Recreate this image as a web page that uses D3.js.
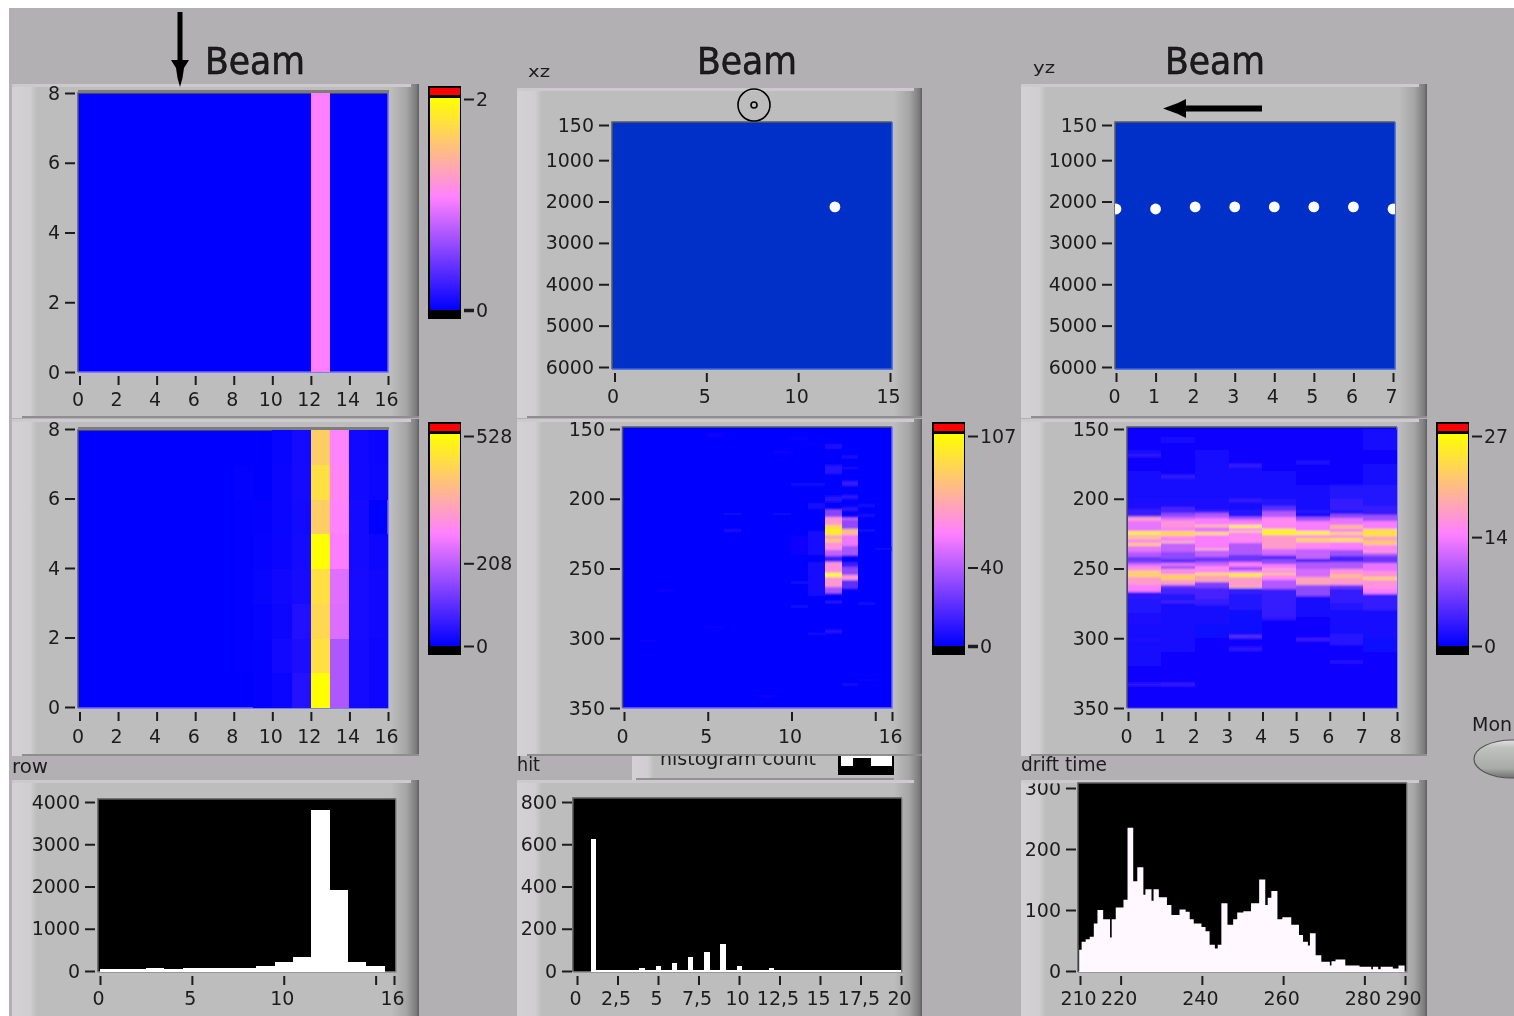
<!DOCTYPE html>
<html><head><meta charset="utf-8"><style>
html,body{margin:0;padding:0;background:#fff;overflow:hidden}
svg{display:block;filter:blur(0.45px)}
text{font-family:"DejaVu Sans",sans-serif;fill:#1c1c1c}
rect{shape-rendering:crispEdges}
</style>
<script src="https://cdn.jsdelivr.net/npm/d3@7"></script></head><body>
<script>
// ---------- data ----------
const beamTitle = "Beam";
const panelLabels = ["xz","yz","row","hit","drift time"];
const rowTicks = [0,2,4,6,8,10,12,14,16];
const colTicks = [0,2,4,6,8];
const wideZTicks = [150,1000,2000,3000,4000,5000,6000];
const zTicks = [150,200,250,300,350];
const xzTicks = [0,5,10,15];
const yzTicks = [0,1,2,3,4,5,6,7];
const hitRowTicks = [0,5,10,15,16];
const driftColTicks = [0,1,2,3,4,5,6,7,8];
const rowCountTicks = [0,1000,2000,3000,4000];
const hitCountTicks = [0,200,400,600,800];
const hitTicks = [0,2.5,5,7.5,10,12.5,15,17.5,20];
const driftCountTicks = [0,100,200,300];
const driftTicks = [210,220,240,260,280,290];

const heat1Max = 2, heat2Max = 528, heat3Max = 107, heat4Max = 27;
const heat1Cols = [[12,1.06]];               // column, value (all rows)
const heat2 = [ // bottom row first
 [0,0,0,0,0,0,0,0,0,4,10,38,528,190,22,14],
 [0,0,0,0,0,0,0,0,2,4,18,30,465,190,22,14],
 [0,0,0,0,0,0,0,0,2,6,14,36,450,240,24,16],
 [0,0,0,0,0,0,0,0,2,8,16,24,465,245,24,16],
 [0,0,0,0,0,0,0,0,2,6,12,22,528,275,22,14],
 [0,0,0,0,0,0,0,0,2,4,10,20,430,285,22,0],
 [0,0,0,0,0,0,0,0,4,0,10,22,465,290,18,14],
 [0,0,0,0,0,0,0,0,0,0,8,22,430,285,18,12]];
const heat3Bands = [ // column, z from, z to, value
 [12,161,164,6],[12,176,182,9],[12,198,202,9],[12,207,213,30],[12,213,219,66],[12,219,222,92],[12,222,226,100],
 [12,226,229,70],[12,229,231,88],[12,231,237,64],[12,237,241,43],[12,241,245,13],[12,245,253,64],[12,253,256,107],
 [12,256,263,66],[12,263,268,37],[12,273,275,12],[12,294,296,10],
 [13,169,171,9],[13,177,179,6],[13,187,191,12],[13,197,200,10],[13,206,209,10],[13,213,215,43],[13,215,222,32],
 [13,222,226,80],[13,226,234,53],[13,234,241,37],[13,245,249,13],[13,249,255,32],[13,255,258,66],[13,258,265,21],
 [5,153,156,2],[4,166,168,1],[9,166,168,2],[10,156,158,2],[10,189,191,3],[11,189,191,3],[11,203,207,5],[9,210,212,3],
 [6,210,212,3],[6,222,224,6],[11,223,240,5],[10,227,240,2],[14,204,206,4],[14,211,213,4],[14,222,224,3],[15,235,237,3],
 [11,245,270,4],[10,259,261,3],[2,265,267,2],[1,269,271,1],[14,274,276,3],[10,276,278,3],[5,291,293,2],[11,296,298,4],
 [1,301,303,2],[3,305,307,1],[8,341,343,2],[14,329,331,2],[13,332,334,3]];
const heat4Col0 = [[150,.5],[165,1.2],[168,2.5],[170,.6],[180,1],[190,1.3],[200,1.7],[207,3],[212,5],[213,17],[216,13],[223,25],[226,14],[227,22],[229,15],[232,22],[234,13],[238,10],[242,6],[245,9],[247,13],[249,16],[252,24],[253,18],[254,23],[256,17],[262,14],[267,2.5],[272,2],[282,1.6],[290,1.2],[300,1.6],[303,1],[320,.5],[332,2.5],[334,.5]];
const heat4Col1 = [[150,.5],[156,1.3],[160,.6],[183,3],[185,1],[200,1.7],[206,4],[210,8],[213,12],[215,16],[221,14],[223,23],[227,15],[231,24],[232,11],[238,8],[243,5],[246,13],[248,9],[250,17],[252,14],[254,22],[258,17],[262,6],[264,4],[268,2],[273,4],[275,1.3],[300,1],[310,.5],[332,3],[334,.5]];
const heat4Col2 = [[150,.5],[165,1.3],[175,1],[200,1.7],[208,3],[210,10],[214,14],[219,22],[220,13],[224,24],[226,14],[236,24],[237,11],[242,6],[245,11],[248,15],[253,25],[255,18],[260,7],[264,4],[272,3],[276,1.2],[290,.8],[300,.5]];
const heat4Col3 = [[150,.5],[175,3],[177,1],[200,3],[202,1.3],[208,2],[213,10],[215,14],[219,26],[221,15],[223,26],[224,15],[232,10],[240,6],[245,14],[249,8],[251,14],[253,25],[256,17],[263,21],[264,3],[268,2],[280,.8],[298,5],[300,.5],[306,2.5],[309,.5]];
const heat4Col4 = [[150,.5],[180,1.2],[200,2],[205,5],[209,10],[213,15],[222,26],[226,17],[236,12],[240,9],[241,4],[243,8],[247,14],[250,22],[251,15],[253,22],[255,15],[258,10],[265,3],[285,2.5],[287,.5]];
const heat4Col5 = [[150,.5],[173,2],[175,.5],[190,1.2],[208,2],[211,.6],[213,9],[216,14],[223,26],[226,15],[228,23],[231,15],[236,11],[243,2],[245,10],[250,12],[256,18],[262,8],[270,1.2],[285,.6],[300,3.5],[302,.5]];
const heat4Col6 = [[150,.5],[190,2],[200,3],[208,2],[211,8],[214,13],[219,20],[222,14],[224,23],[226,15],[228,24],[231,14],[237,9],[241,4],[245,10],[250,16],[254,20],[257,17],[262,6],[265,3],[275,2],[280,1],[297,2.2],[305,.5],[316,2.5],[318,.5]];
const heat4Col7 = [[150,1.2],[165,.6],[175,1.2],[190,2],[205,3],[212,9],[216,14],[222,24],[226,25],[227,18],[230,22],[233,15],[238,19],[239,10],[241,6],[246,13],[252,16],[256,23],[258,16],[265,14],[268,3],[280,1.2],[300,.8],[310,.5]];
const heat4Cols = [heat4Col0,heat4Col1,heat4Col2,heat4Col3,heat4Col4,heat4Col5,heat4Col6,heat4Col7];

const xzDotsX = [12], xzDotsZ = [2130];
const yzDotsX = [0,1,2,3,4,5,6,7];
const yzDotsZ = [2180,2180,2130,2130,2130,2130,2130,2180];

const rowEdges = [0,2.5,3.5,4.5,8.5,9.5,10.5,11.5,12.5,13.5,14.5,15.5];
const rowCounts = [40,70,45,70,118,210,330,3810,1917,210,118];
const hitValues = [1,4,5,6,7,8,9,10,12];
const hitCounts = [625,14,24,38,66,90,128,24,14];
const driftEdges = [209.8,210.4,211.4,212.4,213.4,214.3,215.7,217.4,217.8,218.8,220.7,221.7,223.1,224.1,225.6,226.1,227.6,228.1,229.4,231.4,232.5,234.5,236,237,238,239.9,240.9,241.9,243.2,243.9,244.8,246.3,247.7,248.7,250.2,252.1,254.1,255.6,256.2,257.1,258.6,259.8,262,263.9,264.9,266.1,266.6,268,269.4,271.5,271.9,272.9,275.3,278.8,281.7,282.1,283.4,284,287,288.4,289.9];
const driftCounts = [35,48,52,56,78,100,85,55,85,104,117,235,147,170,125,134,115,134,121,108,92,101,97,85,78,72,65,43,37,43,111,76,85,96,98,111,150,108,120,131,85,88,76,59,48,42,62,26,15,9,16,19,9,7,3,7,3,7,4,9,9];

// ---------- drawing ----------
const BG="#b3b0b3", PANEL="#bdbdbd";
const svg = d3.select("body").append("svg").attr("width",1514).attr("height",1016);
const defs = svg.append("defs");
function grad(id,stops,vertical){
  const g=defs.append("linearGradient").attr("id",id).attr("x1",0).attr("y1",vertical?1:0).attr("x2",vertical?0:1).attr("y2",0);
  stops.forEach(s=>g.append("stop").attr("offset",s[0]).attr("stop-color",s[1]));
}
grad("rightEdge",[[0,PANEL],[.55,"#a5a5a5"],[.9,"#7c7c7c"],[1,"#5f5f5f"]]);
grad("leftEdge",[[0,"#d3d1d3"],[.72,"#d0ced0"],[1,PANEL]]);
grad("ramp",[[0,"#0000ff"],[.53,"#ff80ff"],[1,"#ffff00"]],true);
grad("btn",[[0,"#6f716f"],[.25,"#a8aaa8"],[.8,"#c0c2c0"],[1,"#e0e0e0"]],true);
defs.append("filter").attr("id","vblur").attr("x",0).attr("y",0).attr("width",1).attr("height",1)
  .append("feGaussianBlur").attr("stdDeviation","0 0.8");

svg.append("rect").attr("x",9).attr("y",8).attr("width",1505).attr("height",1008).attr("fill",BG);

function panel(x,y,w,h){
  const g=svg.append("g");
  g.append("rect").attr("x",x).attr("y",y).attr("width",w).attr("height",h).attr("fill",PANEL);
  g.append("rect").attr("x",x).attr("y",y).attr("width",25).attr("height",h).attr("fill","url(#leftEdge)");
  g.append("rect").attr("x",x+w-28).attr("y",y).attr("width",28).attr("height",h).attr("fill","url(#rightEdge)");
  g.append("rect").attr("x",x).attr("y",y).attr("width",w-8).attr("height",3).attr("fill","#cccacc");
  g.append("rect").attr("x",x+10).attr("y",y+h-2).attr("width",w-10).attr("height",2).attr("fill","#8e8e8e");
}

// clipped "histogram count" strip, covered above by the panel
svg.append("rect").attr("x",632).attr("y",750).attr("width",290).attr("height",30).attr("fill",PANEL);
svg.append("rect").attr("x",632).attr("y",750).attr("width",22).attr("height",30).attr("fill","url(#leftEdge)");
svg.append("rect").attr("x",894).attr("y",750).attr("width",28).attr("height",30).attr("fill","url(#rightEdge)");
svg.append("rect").attr("x",636).attr("y",778).attr("width",258).attr("height",2).attr("fill","#929292");
svg.append("text").attr("x",660).attr("y",765).attr("font-size",19).text("histogram count");
svg.append("rect").attr("x",838).attr("y",750).attr("width",56).attr("height",25).attr("fill","#000");
svg.append("rect").attr("x",841).attr("y",750).attr("width",51).attr("height",16).attr("fill","#fff");
svg.append("rect").attr("x",853).attr("y",758).attr("width",18).attr("height",8).attr("fill","#000");

[[12,84,407,334],[517,88,405,330],[1021,84,406,334],
 [12,419,407,337],[517,419,405,337],[1021,419,406,337],
 [12,780,407,240],[517,780,405,240],[1021,780,406,240]].forEach(p=>panel(...p));

function styleAxis(g){
  g.select(".domain").remove();
  g.selectAll("line").attr("stroke","#1c1c1c").attr("stroke-width",2);
  g.selectAll("text").attr("font-size",19).attr("fill","#1c1c1c");
}
const plain = d3.format("d");
function yAxis(scale,ticks,axisX){
  const a=d3.axisLeft(scale).tickValues(ticks).tickSize(10).tickPadding(5).tickFormat(plain);
  const g=svg.append("g").attr("transform",`translate(${axisX},0)`).call(a); styleAxis(g); return g;
}
function xAxis(scale,ticks,axisY,fmt,pad){
  const a=d3.axisBottom(scale).tickValues(ticks).tickSize(9).tickPadding(pad||7).tickFormat(fmt||plain);
  const g=svg.append("g").attr("transform",`translate(0,${axisY})`).call(a); styleAxis(g);
  g.selectAll("text").attr("dx",-2); return g;
}
function frame(x0,y0,x1,y1,fill,edge){
  svg.append("rect").attr("x",x0).attr("y",y0).attr("width",x1-x0).attr("height",y1-y0).attr("fill",fill);
  const e=svg.append("g").attr("fill","none").attr("stroke-width",1.5);
  e.append("path").attr("d",`M${x0},${y1}V${y0}H${x1}`).attr("stroke","#5a5a5a");
  e.append("path").attr("d",`M${x0},${y1}H${x1}V${y0}`).attr("stroke",edge);
}
function ramp(max){return d3.scaleLinear().domain([0,.53*max,max]).range(["#0000ff","#ff80ff","#ffff00"]);}
function colorbar(x,top,max,ticks,yMax,boldZero){
  svg.append("rect").attr("x",x).attr("y",top).attr("width",33).attr("height",233).attr("fill","#000");
  svg.append("rect").attr("x",x+2).attr("y",top+2).attr("width",30).attr("height",7).attr("fill","#ff0000");
  svg.append("rect").attr("x",x+2).attr("y",top+12).attr("width",30).attr("height",212).attr("fill","url(#ramp)");
  const s=d3.scaleLinear().domain([0,max]).range([top+224,yMax]);
  const g=svg.append("g").attr("transform",`translate(${x+36},0)`).call(d3.axisRight(s).tickValues(ticks).tickSize(10).tickPadding(2).tickFormat(plain));
  styleAxis(g);
  if(boldZero) g.selectAll(".tick").filter(d=>d===0).select("line").attr("stroke-width",3.5);
}

// --- row 1 left
const x1=d3.scaleLinear().domain([0,16]).range([79.5,388]);
const y1=d3.scaleLinear().domain([0,8]).range([372,93]);
frame(78,93,388,372,"#0000ff","#6868ff");
svg.append("rect").attr("x",78).attr("y",90).attr("width",311).attr("height",3).attr("fill","#7d7d7d");
svg.selectAll(null).data(heat1Cols).enter().append("rect")
  .attr("x",d=>x1(d[0])).attr("width",d=>x1(d[0]+1)-x1(d[0])).attr("y",y1(8)).attr("height",y1(0)-y1(8))
  .attr("fill",d=>ramp(heat1Max)(d[1]));
yAxis(y1,colTicks,75); xAxis(x1,rowTicks,376,null,8);
colorbar(428,86,heat1Max,[0,2],99,true);

// --- row 2 left
const y2=d3.scaleLinear().domain([0,8]).range([708,430]);
frame(78,430,388,708,"#0000ff","#6868ff");
svg.append("rect").attr("x",78).attr("y",427).attr("width",311).attr("height",3).attr("fill","#7d7d7d");
heat2.forEach((row,r)=>row.forEach((v,c)=>{ if(v>0) svg.append("rect")
  .attr("x",x1(c)).attr("width",x1(c+1)-x1(c)).attr("y",y2(r+1)).attr("height",y2(r)-y2(r+1))
  .attr("fill",ramp(heat2Max)(v)); }));
yAxis(d3.scaleLinear().domain([0,8]).range([707,429]),colTicks,75);
xAxis(x1,rowTicks,712,null,9);
colorbar(428,422,heat2Max,[0,208,528],436);

// --- row 1 middle/right (xz, yz)
function dotsPlot(x0,x1p,scaleX,ticks,dx,dz,clipId,axisX){
  frame(x0,122,x1p,369,"#0030c8","#3a63e0");
  const zs=d3.scaleLinear().domain([150,6000]).range([125,367]);
  defs.append("clipPath").attr("id",clipId).append("rect").attr("x",x0).attr("y",122).attr("width",x1p-x0).attr("height",247);
  svg.append("g").attr("clip-path",`url(#${clipId})`).selectAll("circle").data(dx).enter().append("circle")
    .attr("cx",d=>scaleX(d)).attr("cy",(d,i)=>zs(dz[i])).attr("r",5.4).attr("fill","#fff");
  yAxis(zs,wideZTicks,axisX);
  xAxis(scaleX,ticks,373,null,8);
}
dotsPlot(612,892,d3.scaleLinear().domain([0,15]).range([614.5,890]),xzTicks,xzDotsX,xzDotsZ,"c1",609);
dotsPlot(1115,1395,d3.scaleLinear().domain([0,7]).range([1116,1393]),yzTicks,yzDotsX,yzDotsZ,"c2",1112);

// --- heat3 / heat4
const zScale=d3.scaleLinear().domain([150,350]).range([429,708]);
frame(622.5,427,892,708,"#0000ff","#6868ff");
const x3=d3.scaleLinear().domain([0,16]).range([623,892]);
svg.append("g").attr("filter","url(#vblur)").selectAll("rect").data(heat3Bands).enter().append("rect")
  .attr("x",d=>x3(d[0])).attr("width",d=>x3(d[0]+1)-x3(d[0]))
  .attr("y",d=>zScale(d[1])).attr("height",d=>zScale(d[2])-zScale(d[1]))
  .attr("fill",d=>ramp(heat3Max)(d[3]));
yAxis(zScale,zTicks,620);
xAxis(d3.scaleLinear().domain([0,16]).range([624,892]),hitRowTicks,712,d=>d===15?"":d,9);
colorbar(932,422,heat3Max,[0,40,107],436,true);

frame(1127,427,1397,708,"#0000ff","#6868ff");
const x4=d3.scaleLinear().domain([0,8]).range([1127.5,1397]);
const h4=svg.append("g").attr("filter","url(#vblur)");
heat4Cols.forEach((col,c)=>col.forEach((st,i)=>{
  const z0=st[0], z1=i+1<col.length?col[i+1][0]:350;
  h4.append("rect").attr("x",x4(c)).attr("width",x4(c+1)-x4(c)).attr("y",zScale(z0)).attr("height",zScale(z1)-zScale(z0))
    .attr("fill",ramp(heat4Max)(st[1]));
}));
yAxis(zScale,zTicks,1124);
xAxis(d3.scaleLinear().domain([0,8]).range([1128,1397]),driftColTicks,712,null,9);
colorbar(1436,422,heat4Max,[0,14,27],436);

// --- histograms
function hfill(x0,y0,x1p,y1p){frame(x0,y0,x1p,y1p,"#000","#8a8a8a");}
// row
hfill(98,799,396,972);
const xr=d3.scaleLinear().domain([0,16]).range([100,394]);
const yr=d3.scaleLinear().domain([0,4000]).range([971,802]);
svg.selectAll(null).data(rowCounts).enter().append("rect")
  .attr("x",(d,i)=>xr(rowEdges[i])).attr("width",(d,i)=>xr(rowEdges[i+1])-xr(rowEdges[i]))
  .attr("y",d=>yr(d)).attr("height",d=>yr(0)-yr(d)+1).attr("fill","#fff");
yAxis(yr,rowCountTicks,95);
xAxis(xr,hitRowTicks,976,d=>d===15?"":d);
// hit
hfill(573,798,902,972);
const xh=d3.scaleLinear().domain([0,20]).range([577,901]);
const yh=d3.scaleLinear().domain([0,800]).range([971,802]);
svg.append("rect").attr("x",xh(1)).attr("y",yh(0)-1).attr("width",xh(20)-xh(1)).attr("height",2).attr("fill","#fff");
svg.selectAll(null).data(hitCounts).enter().append("rect")
  .attr("x",(d,i)=>xh(hitValues[i])-2.5).attr("width",5.5)
  .attr("y",d=>yh(d)).attr("height",d=>yh(0)-yh(d)+1).attr("fill","#fff");
yAxis(yh,hitCountTicks,572);
xAxis(xh,hitTicks,976,d=>String(d).replace(".",","));
// drift
hfill(1078,783,1407,972);
const xd=d3.scaleLinear().domain([210,290]).range([1080,1405]);
const yd=d3.scaleLinear().domain([0,300]).range([971,788]);
svg.append("path").datum(driftCounts).attr("fill","#fff9ff")
  .attr("d",d3.area().curve(d3.curveStepAfter).x((d,i)=>xd(driftEdges[i])).y0(yd(0)+1).y1(d=>yd(d)));
defs.append("clipPath").attr("id","c4").append("rect").attr("x",-70).attr("y",-5).attr("width",70).attr("height",20);
yAxis(yd,driftCountTicks,1076).selectAll(".tick").filter(d=>d===300).select("text").attr("clip-path","url(#c4)");
xAxis(xd,driftTicks,976);

// --- annotations
[[205,74],[697,74],[1165,74]].forEach(p=>svg.append("text").attr("x",p[0]).attr("y",p[1])
  .attr("font-size",37).attr("textLength",100).attr("lengthAdjust","spacingAndGlyphs")
  .attr("fill","#000").attr("stroke","#000").attr("stroke-width",.5).text(beamTitle));
[[528,77,panelLabels[0],16,22],[1033,73,panelLabels[1],16,22],[12,773,panelLabels[2],19,36],[517,771,panelLabels[3],19,23],[1021,771,panelLabels[4],19,86]]
 .forEach(p=>svg.append("text").attr("x",p[0]).attr("y",p[1]).attr("font-size",p[3])
   .attr("textLength",p[4]).attr("lengthAdjust","spacingAndGlyphs").text(p[2]));
svg.append("path").attr("d","M177.5,12H182.5V60H189L184,68L182.5,78L180,87L177.5,78L176,68L171,60H177.5Z").attr("fill","#000");
svg.append("path").attr("d","M1262,105.5V111.5H1186V118L1178,114L1163,108.5L1178,103L1186,99V105.5Z").attr("fill","#000");
svg.append("circle").attr("cx",754).attr("cy",105).attr("r",16).attr("fill","none").attr("stroke","#000").attr("stroke-width",1.6);
svg.append("circle").attr("cx",754).attr("cy",105).attr("r",3).attr("fill","none").attr("stroke","#000").attr("stroke-width",1.6);
svg.append("text").attr("x",1472).attr("y",731).attr("font-size",19).text("Mon");
svg.append("ellipse").attr("cx",1512).attr("cy",759).attr("rx",38).attr("ry",19).attr("fill","url(#btn)").attr("stroke","#555").attr("stroke-width",1.2);
</script></body></html>
